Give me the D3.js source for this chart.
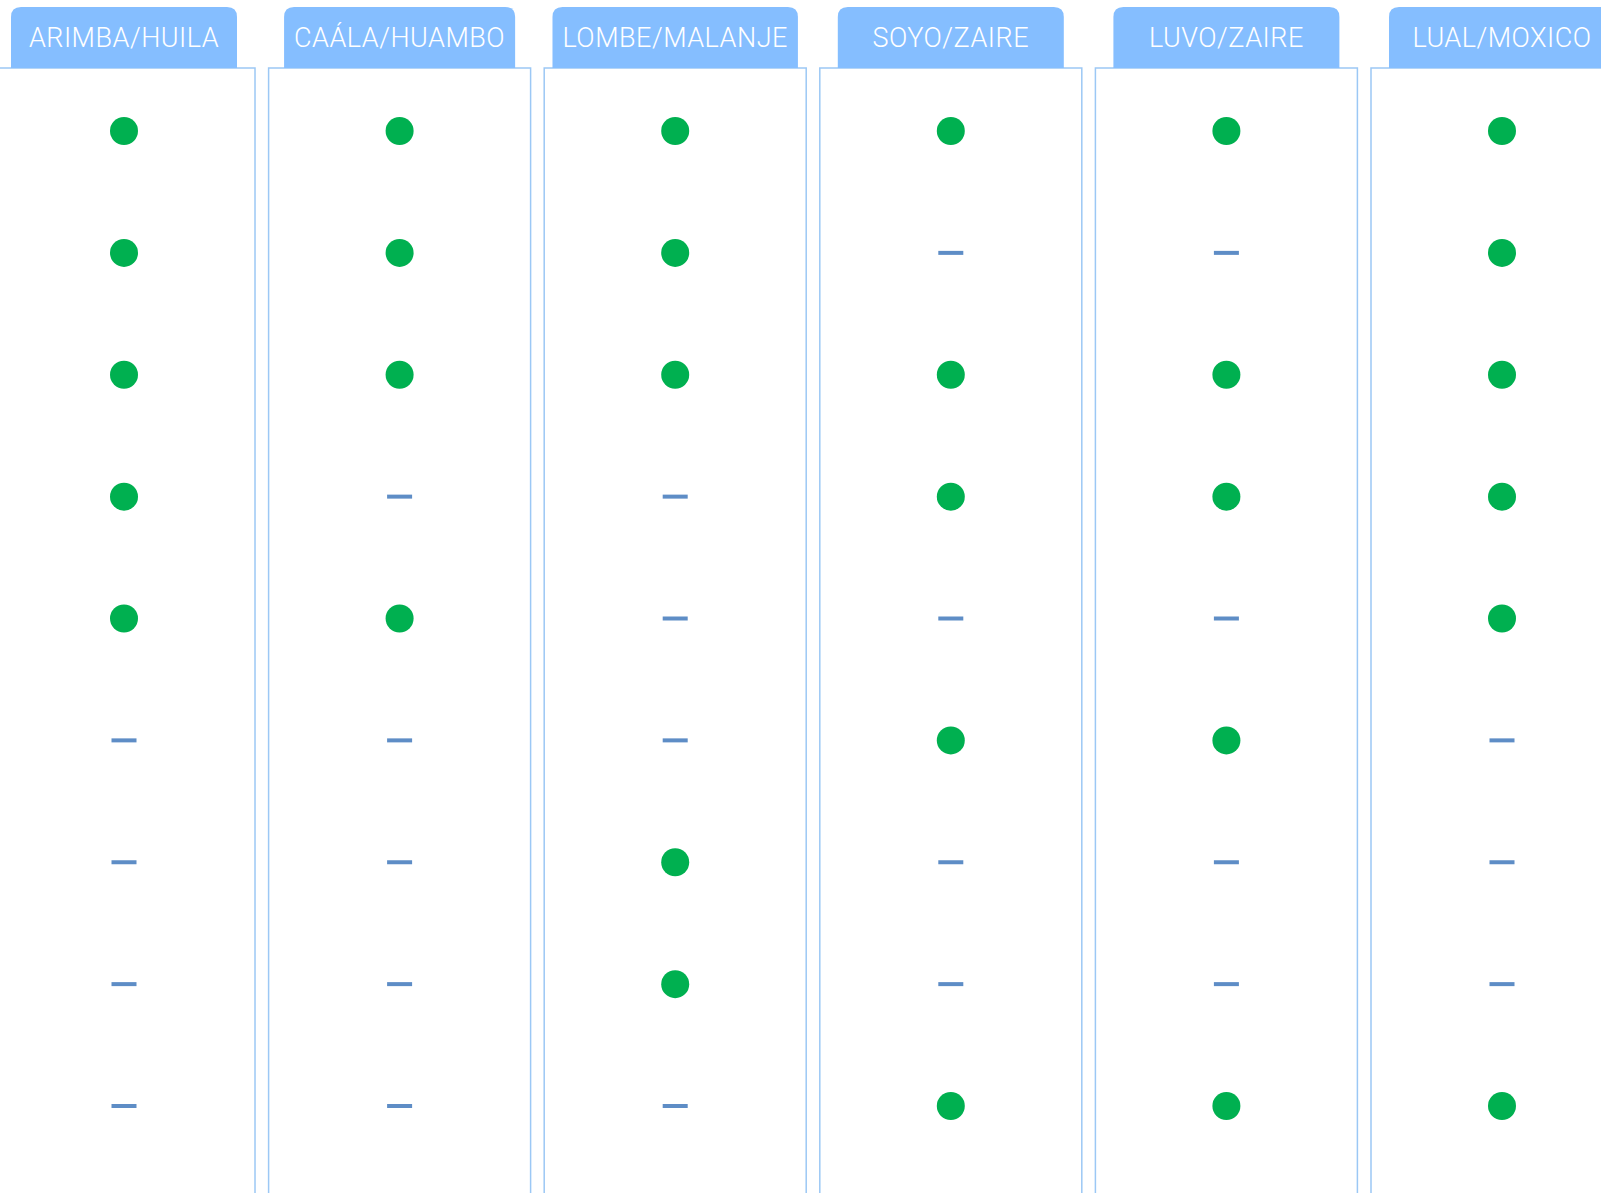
<!DOCTYPE html>
<html>
<head>
<meta charset="utf-8">
<script src="https://cdn.jsdelivr.net/npm/d3@7"></script>
<style>
  html, body { margin: 0; padding: 0; background: #ffffff; overflow: hidden; }
  svg { display: block; }
</style>
</head>
<body>
<svg id="chart" width="1601" height="1193"></svg>
<script>
// ---- data ----
const sites = ["ARIMBA/HUILA", "CAÁLA/HUAMBO", "LOMBE/MALANJE", "SOYO/ZAIRE", "LUVO/ZAIRE", "LUAL/MOXICO"];
const rows = [1, 2, 3, 4, 5, 6, 7, 8, 9];
// 1 = green dot (present), 0 = blue dash (absent)
const arimba  = [1, 1, 1, 1, 1, 0, 0, 0, 0];
const caala   = [1, 1, 1, 0, 1, 0, 0, 0, 0];
const lombe   = [1, 1, 1, 0, 0, 0, 1, 1, 0];
const soyo    = [1, 0, 1, 1, 0, 1, 0, 0, 1];
const luvo    = [1, 0, 1, 1, 0, 1, 0, 0, 1];
const lual    = [1, 1, 1, 1, 1, 0, 0, 0, 1];
const values = [arimba, caala, lombe, soyo, luvo, lual];

// ---- layout ----
const svg = d3.select("#chart");
const x = d3.scalePoint().domain(sites).range([124, 1502]);
const y = d3.scalePoint().domain(rows).range([131, 1106]);

const boxW = 262, minHeadW = 226, headTop = 7, headH = 61, boxTop = 68, boxBottom = 1210;
const headColor = "#85BEFF", borderColor = "#9CC8F5";
const green = "#00B050", dashColor = "#5E8DC6";

const cols = svg.selectAll("g.col").data(sites).join("g").attr("class", "col");

// box
cols.append("rect")
  .attr("x", d => x(d) - boxW / 2)
  .attr("y", boxTop)
  .attr("width", boxW)
  .attr("height", boxBottom - boxTop)
  .attr("fill", "none")
  .attr("stroke", borderColor)
  .attr("stroke-width", 1.5);

const tabs = cols.append("path").attr("fill", headColor);

const labels = cols.append("text")
  .attr("x", d => x(d))
  .attr("y", headTop + headH / 2 + 2)
  .attr("text-anchor", "middle")
  .attr("dominant-baseline", "middle")
  .attr("fill", "#ffffff")
  .attr("font-family", "Roboto, 'Open Sans', sans-serif")
  .attr("font-weight", 300)
  .attr("font-size", 27)
  .attr("letter-spacing", 0.5)
  .text(d => d);

// header tab with rounded top corners, wide enough for its label
const r = 10;
tabs.attr("d", function(d, i) {
  const tw = labels.nodes()[i].getComputedTextLength();
  const w = Math.max(minHeadW, tw + 20);
  const x0 = x(d) - w / 2, x1 = x(d) + w / 2, y0 = headTop, y1 = headTop + headH;
  return `M${x0},${y1} L${x0},${y0 + r} Q${x0},${y0} ${x0 + r},${y0} L${x1 - r},${y0} Q${x1},${y0} ${x1},${y0 + r} L${x1},${y1} Z`;
});

// marks
sites.forEach((s, i) => {
  const g = svg.append("g");
  const cells = values[i].map((v, j) => ({ site: s, row: rows[j], v }));
  g.selectAll("circle").data(cells.filter(c => c.v === 1)).join("circle")
    .attr("cx", c => x(c.site))
    .attr("cy", c => y(c.row))
    .attr("r", 14)
    .attr("fill", green);
  g.selectAll("rect").data(cells.filter(c => c.v === 0)).join("rect")
    .attr("x", c => x(c.site) - 12.5)
    .attr("y", c => y(c.row) - 2)
    .attr("width", 25)
    .attr("height", 4)
    .attr("fill", dashColor);
});
</script>
</body>
</html>
